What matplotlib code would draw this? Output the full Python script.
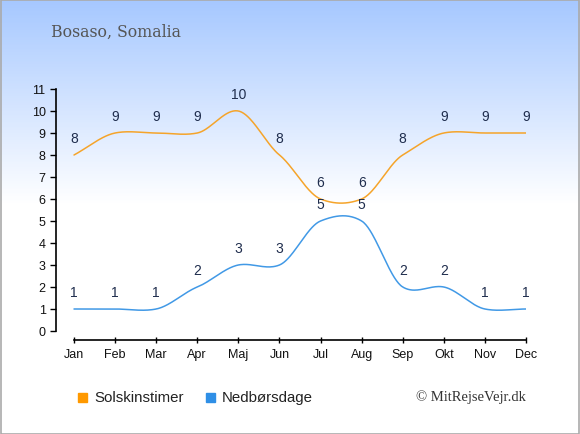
import numpy as np
import matplotlib
matplotlib.use("Agg")
import matplotlib.pyplot as plt
from matplotlib.colors import LinearSegmentedColormap

months = ["Jan", "Feb", "Mar", "Apr", "Maj", "Jun", "Jul", "Aug", "Sep", "Okt", "Nov", "Dec"]
sun_hours = [8, 9, 9, 9, 10, 8, 6, 6, 8, 9, 9, 9]
rain_days = [1, 1, 1, 2, 3, 3, 5, 5, 2, 2, 1, 1]
yticks = list(range(0, 12))

title = "Bosaso, Somalia"
legend_labels = ["Solskinstimer", "Nedbørsdage"]
credit = "© MitRejseVejr.dk"

SUN_C = "#f5a42a"
SUN_LEG = "#ff9900"
RAIN_C = "#4199e6"
RAIN_LEG = "#2f8fe6"
LABEL_C = "#1f2d4d"


def smooth(xs, ys, k=0.75, n=40):
    xs = np.asarray(xs, float)
    ys = np.asarray(ys, float)
    N = len(xs)
    m = np.zeros(N)
    for i in range(1, N - 1):
        m[i] = k * (ys[i + 1] - ys[i - 1]) / (xs[i + 1] - xs[i - 1])
    m[0] = (ys[1] - ys[0]) / (xs[1] - xs[0])
    m[-1] = 0.0
    t = np.linspace(0, 1, n)
    h00 = 2 * t ** 3 - 3 * t ** 2 + 1
    h10 = t ** 3 - 2 * t ** 2 + t
    h01 = -2 * t ** 3 + 3 * t ** 2
    h11 = t ** 3 - t ** 2
    X, Y = [], []
    for i in range(N - 1):
        dx = xs[i + 1] - xs[i]
        X.extend(xs[i] + t * dx)
        Y.extend(h00 * ys[i] + h10 * dx * m[i] + h01 * ys[i + 1] + h11 * dx * m[i + 1])
    return np.array(X), np.array(Y)


W, H = 580, 435
fig = plt.figure(figsize=(W / 100, H / 100), dpi=100)

# background gradient
bg = fig.add_axes([0, 0, 1, 1], zorder=-10)
grad = np.linspace(0, 1, 435).reshape(-1, 1)
cmap = LinearSegmentedColormap.from_list("bg", [(0, "#a6c8ff"), (0.47, "#ffffff"), (1, "#ffffff")])
bg.imshow(grad, aspect="auto", cmap=cmap, extent=[0, 1, 0, 1], origin="upper")
bg.set_xlim(0, 1); bg.set_ylim(0, 1)
bg.axis("off")
bg.add_patch(plt.Rectangle((0.5 / W, 0.5 / H), 1 - 1.5 / W, 1 - 1.5 / H, fill=False,
                           edgecolor="#aaaaaa", lw=1.2, transform=bg.transAxes))

x0, x1 = 56, 526
yb, yt = 341, 90
ax = fig.add_axes([x0 / W, 1 - yb / H, (x1 - x0) / W, (yb - yt) / H])
ax.patch.set_alpha(0)
step = (526 - 74) / 11
ax.set_xlim(-(74 - 56) / step, 11)
unit = (332 - 90) / 11
ax.set_ylim(-(341 - 332) / unit, 11)

xs = np.arange(len(months))
sx, sy = smooth(xs, sun_hours)
rx, ry = smooth(xs, rain_days)
ax.plot(sx, sy, color=SUN_C, lw=1.1, solid_capstyle="round")
ax.plot(rx, ry, color=RAIN_C, lw=1.1, solid_capstyle="round")

for x, v in zip(xs, sun_hours):
    ax.annotate(str(v), (x, v), xytext=(0, 7.5), textcoords="offset points", ha="center",
                va="bottom", fontsize=10, color=LABEL_C, family="Liberation Sans")
for x, v in zip(xs, rain_days):
    ax.annotate(str(v), (x, v), xytext=(0, 7.5), textcoords="offset points", ha="center",
                va="bottom", fontsize=10, color=LABEL_C, family="Liberation Sans")

for s in ["top", "right"]:
    ax.spines[s].set_visible(False)
ax.spines["left"].set_bounds(0, 11)
ax.spines["bottom"].set_bounds(0, 11)
ax.spines["left"].set_color("#000000")
ax.spines["bottom"].set_color("#000000")
ax.spines["left"].set_linewidth(1.2)
ax.spines["bottom"].set_linewidth(1.2)
ax.set_yticks(yticks)
ax.set_yticklabels([str(v) for v in yticks])
ax.set_xticks(xs)
ax.set_xticklabels(months)
ax.tick_params(axis="y", direction="out", length=4.5, width=1, pad=3, labelsize=9)
ax.tick_params(axis="x", direction="inout", length=5, width=1, pad=3, labelsize=9)
for lab in ax.get_xticklabels() + ax.get_yticklabels():
    lab.set_family("Liberation Sans")
    lab.set_color("#111111")

fig.text(51 / W, 1 - 32 / H, title, fontsize=11.3, color="#555555", family="DejaVu Serif",
         va="center", ha="left")

# legend
for (px, c, lab) in [(77.5, SUN_LEG, legend_labels[0]), (205.5, RAIN_LEG, legend_labels[1])]:
    fig.patches.append(plt.Rectangle((px / W, 1 - 403 / H), 9 / W, 9 / H, color=c,
                                     transform=fig.transFigure, figure=fig))
    fig.text((px + 16.5) / W, 1 - 398 / H, lab, fontsize=10.8, color="#222222",
             family="Liberation Sans", va="center", ha="left")
fig.text(526 / W, 1 - 397 / H, credit, fontsize=10.5, color="#333333", family="Liberation Serif",
         va="center", ha="right")

fig.savefig("out.png", dpi=100)
